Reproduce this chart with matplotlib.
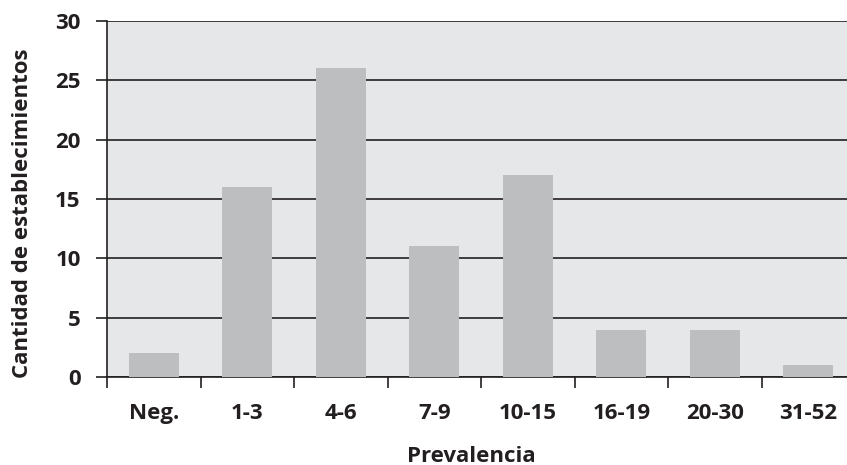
import matplotlib
matplotlib.use("Agg")
import matplotlib.pyplot as plt

categories = ["Neg.", "1-3", "4-6", "7-9", "10-15", "16-19", "20-30", "31-52"]
values = [2, 16, 26, 11, 17, 4, 4, 1]
yticks = [0, 5, 10, 15, 20, 25, 30]

plt.rcParams['font.family'] = ['Open Sans', 'DejaVu Sans']
plt.rcParams['font.weight'] = 'bold'

W, H = 847, 465
fig = plt.figure(figsize=(W / 100, H / 100), dpi=100)
left, right, top, bottom = 107, 855, 21, 377
ax = fig.add_axes([left / W, (H - bottom) / H, (right - left) / W, (bottom - top) / H])
ax.set_facecolor('#e6e7e8')

ink = '#231f20'
fs = 16

x = list(range(len(categories)))
ax.bar(x, values, width=0.535, color='#bdbebf', zorder=3)
ax.set_xlim(-0.5, len(categories) - 0.5)
ax.set_ylim(0, 30)
ax.set_yticks(yticks)
ax.set_yticklabels([str(v) for v in yticks])
ax.yaxis.grid(True, color=ink, linewidth=1.2, zorder=1)
ax.set_axisbelow(True)

ax.set_xticks([i + 0.5 for i in range(-1, len(categories))], minor=False)
ax.set_xticklabels([])
ax.tick_params(axis='x', which='major', length=8, width=1.2, color=ink, direction='out')
ax.set_xticks(x, minor=True)
ax.set_xticklabels(categories, minor=True, fontsize=fs, fontweight='bold', color=ink)
ax.tick_params(axis='x', which='minor', length=0, pad=19)
ax.tick_params(axis='y', length=8, width=1.2, color=ink, pad=11, labelsize=fs, labelcolor=ink)

for s in ['top', 'right']:
    ax.spines[s].set_visible(False)
for s in ['left', 'bottom']:
    ax.spines[s].set_color(ink)
    ax.spines[s].set_linewidth(1.2)

fig.text(471 / W, 1 - 456 / H, 'Prevalencia', fontsize=fs, fontweight='bold', color=ink,
         ha='center', va='center')
fig.text(23 / W, 1 - 213 / H, 'Cantidad de establecimientos', fontsize=fs, fontweight='bold',
         color=ink, ha='center', va='center', rotation=90)

fig.savefig('out.png', dpi=100)
